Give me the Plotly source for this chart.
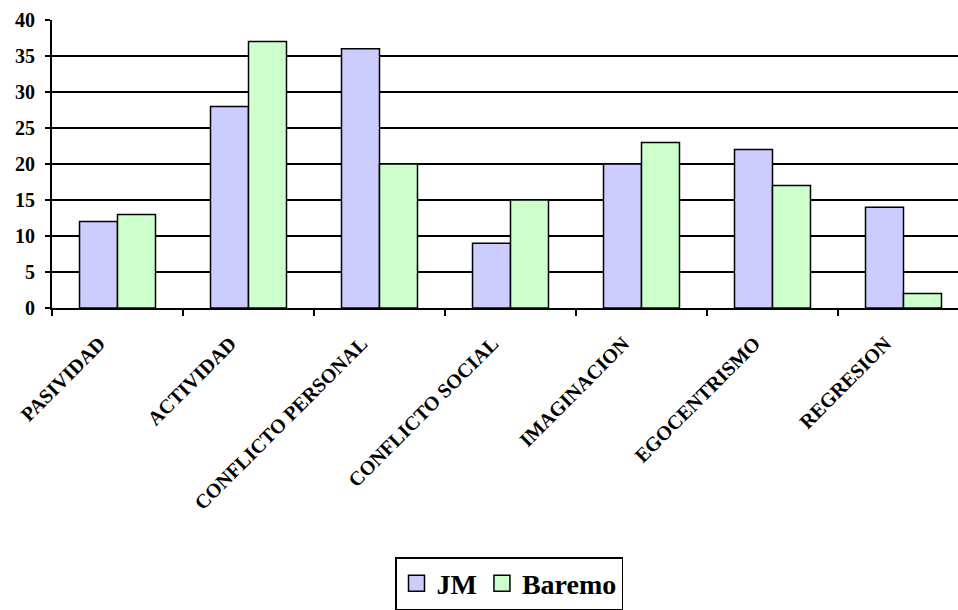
import plotly.graph_objects as go

categories = ["PASIVIDAD", "ACTIVIDAD", "CONFLICTO PERSONAL", "CONFLICTO SOCIAL",
              "IMAGINACION", "EGOCENTRISMO", "REGRESION"]
jm = [12, 28, 36, 9, 20, 22, 14]
baremo = [13, 37, 20, 15, 23, 17, 2]
y_ticks = [0, 5, 10, 15, 20, 25, 30, 35, 40]
series_names = ["JM", "Baremo"]
series_colors = ["#CCCCFF", "#CCFFCC"]

W, H = 958, 610
L, R, T, B = 52, 0, 20, 301

font_family = "Liberation Serif, Times New Roman, serif"

fig = go.Figure()
for name, vals, col in zip(series_names, [jm, baremo], series_colors):
    fig.add_trace(go.Bar(x=categories, y=vals, name=name, showlegend=False,
                         marker=dict(color=col, line=dict(color="black", width=1.5))))
# legend entries with larger square swatches
for name, col in zip(series_names, series_colors):
    fig.add_trace(go.Scatter(x=[None], y=[None], name=name, mode="markers",
                             marker=dict(symbol="square", size=20, color=col,
                                         line=dict(color="black", width=1.5))))

plot_w = W - L - R
plot_h = H - T - B

fig.update_layout(
    width=W, height=H,
    margin=dict(l=L, r=R, t=T, b=B, pad=0),
    paper_bgcolor="white", plot_bgcolor="white",
    barmode="group", bargap=0.42, bargroupgap=0,
    font=dict(family=font_family, color="black"),
    showlegend=True,
    legend=dict(orientation="h", x=(509 - L) / plot_w, xanchor="center",
                y=(H - B - 559) / plot_h, yanchor="top",
                bordercolor="black", borderwidth=1.5, bgcolor="white",
                font=dict(family=font_family, size=28, color="black", weight="bold"),
                itemwidth=30, tracegroupgap=0),
    xaxis=dict(
        range=[-0.5, -0.5 + plot_w / 131.0],
        showline=True, linecolor="black", linewidth=2,
        ticks="outside", tickson="boundaries", ticklen=6, tickwidth=2, tickcolor="black",
        tickangle=-45, ticklabelstandoff=14, ticklabelshift=-18,
        tickfont=dict(family=font_family, size=20, color="black", weight="bold"),
        showgrid=False, zeroline=False, fixedrange=True,
    ),
    yaxis=dict(
        range=[0, 40], tickvals=y_ticks,
        showline=True, linecolor="black", linewidth=2,
        ticks="outside", ticklen=5, tickwidth=2, tickcolor="black",
        ticklabelstandoff=6,
        tickfont=dict(family=font_family, size=20, color="black", weight="bold"),
        showgrid=True, gridcolor="black", gridwidth=1.5,
        zeroline=False, fixedrange=True,
    ),
)

fig.write_html("out.html")
